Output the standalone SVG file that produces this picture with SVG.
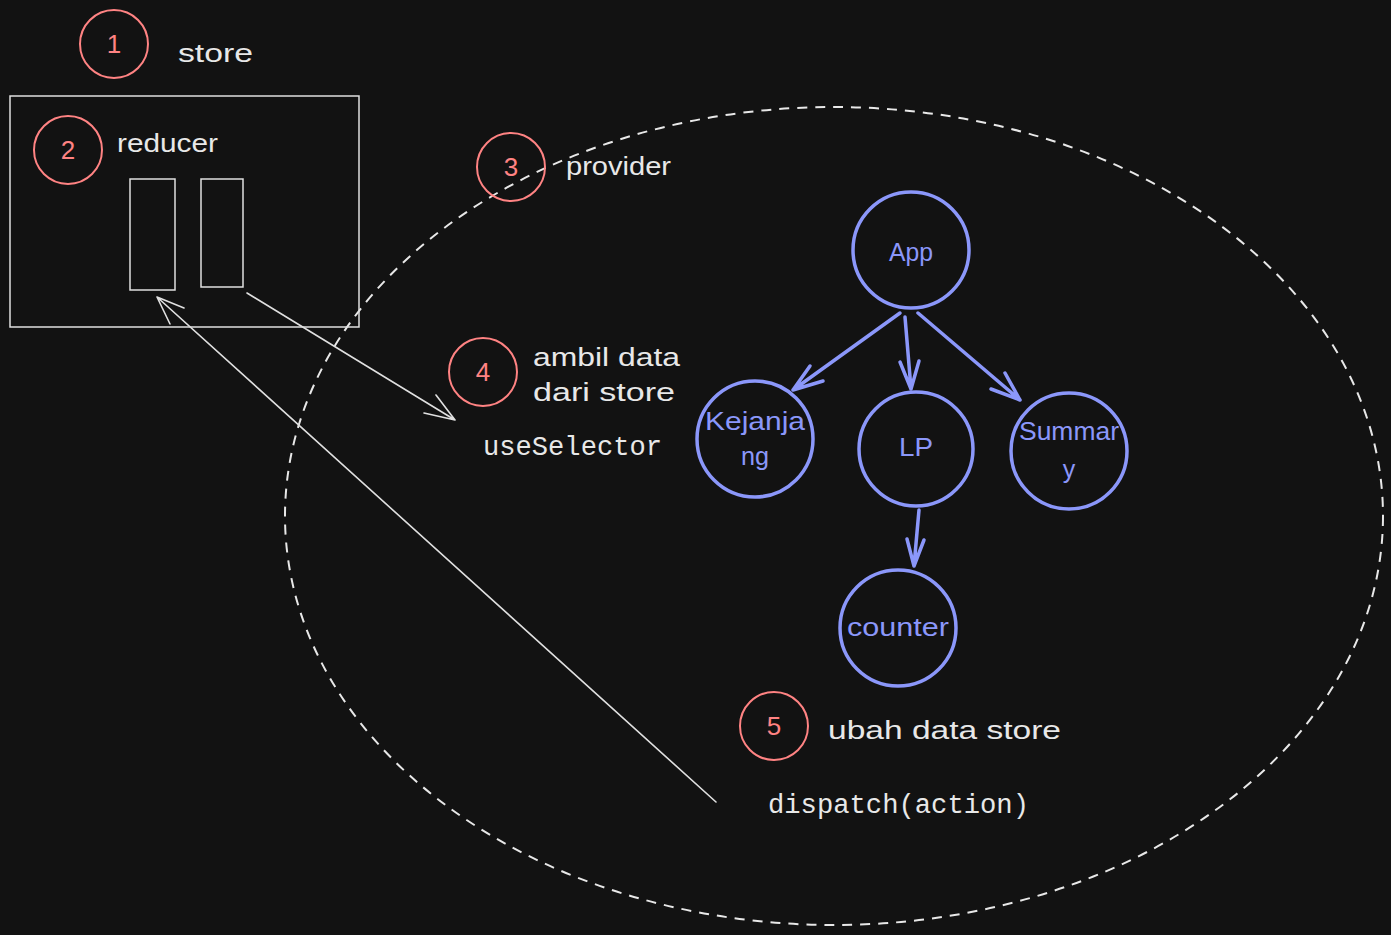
<svg xmlns="http://www.w3.org/2000/svg" width="1391" height="935" viewBox="0 0 1391 935">
<defs>
<style>
.bg{fill:#121212}
.red{fill:none;stroke:#ff8383;stroke-width:2}
.rnum{fill:#ff8383;font-family:"Liberation Sans",sans-serif;font-size:26px;text-anchor:middle}
.hand{fill:#e8e8e8;font-family:"Liberation Sans",sans-serif;font-size:26px}
.mono{fill:#e8e8e8;font-family:"Liberation Mono","DejaVu Sans Mono",monospace;font-size:27px}
.box{fill:none;stroke:#e0e0e0;stroke-width:1.5}
.bnode{fill:none;stroke:#8b97fa;stroke-width:3.5}
.btext{fill:#8b97fa;font-family:"Liberation Sans",sans-serif;font-size:25px;text-anchor:middle}
.bline{fill:none;stroke:#8b97fa;stroke-width:3.5;stroke-linecap:round;stroke-linejoin:round}
.wline{fill:none;stroke:#e0e0e0;stroke-width:1.6;stroke-linecap:round}
</style>
</defs>
<rect class="bg" x="0" y="0" width="1391" height="935"/>

<g id="provider-area">
<ellipse cx="834" cy="516" rx="549" ry="409" fill="none" stroke="#e8e8e8" stroke-width="2" stroke-dasharray="10 8"/>
</g>

<g id="store-label">
<circle class="red" cx="114" cy="44" r="34"/>
<text class="rnum" x="114" y="53">1</text>
<text class="hand" x="178" y="62" textLength="75" lengthAdjust="spacingAndGlyphs">store</text>
</g>

<g id="store-box">
<rect class="box" x="10" y="96" width="349" height="231"/>
<circle class="red" cx="68" cy="150" r="34"/>
<text class="rnum" x="68" y="159">2</text>
<text class="hand" x="117" y="152" textLength="101" lengthAdjust="spacingAndGlyphs">reducer</text>
<rect class="box" x="130" y="179" width="45" height="111"/>
<rect class="box" x="201" y="179" width="42" height="108"/>
</g>

<g id="provider-label">
<circle class="red" cx="511" cy="167" r="34"/>
<text class="rnum" x="511" y="176">3</text>
<text class="hand" x="566" y="175" textLength="105" lengthAdjust="spacingAndGlyphs">provider</text>
</g>

<g id="selector-label">
<circle class="red" cx="483" cy="372" r="34"/>
<text class="rnum" x="483" y="381">4</text>
<text class="hand" x="533" y="366" textLength="147" lengthAdjust="spacingAndGlyphs">ambil data</text>
<text class="hand" x="533" y="401" textLength="142" lengthAdjust="spacingAndGlyphs">dari store</text>
<text class="mono" x="483" y="455" textLength="179" lengthAdjust="spacingAndGlyphs">useSelector</text>
</g>

<g id="dispatch-label">
<circle class="red" cx="774" cy="726" r="34"/>
<text class="rnum" x="774" y="735">5</text>
<text class="hand" x="828" y="739" textLength="233" lengthAdjust="spacingAndGlyphs">ubah data store</text>
<text class="mono" x="768" y="813" textLength="261" lengthAdjust="spacingAndGlyphs">dispatch(action)</text>
</g>

<g id="node-app">
<circle class="bnode" cx="911" cy="250" r="58"/>
<text class="btext" x="911" y="261" textLength="44" lengthAdjust="spacingAndGlyphs">App</text>
</g>
<g id="node-kejanjang">
<circle class="bnode" cx="755" cy="439" r="58"/>
<text class="btext" x="755" y="430" textLength="100" lengthAdjust="spacingAndGlyphs">Kejanja</text>
<text class="btext" x="755" y="465" textLength="28" lengthAdjust="spacingAndGlyphs">ng</text>
</g>
<g id="node-lp">
<circle class="bnode" cx="916" cy="449" r="57"/>
<text class="btext" x="916" y="456" textLength="34" lengthAdjust="spacingAndGlyphs">LP</text>
</g>
<g id="node-summary">
<circle class="bnode" cx="1069" cy="451" r="58"/>
<text class="btext" x="1069" y="440" textLength="100" lengthAdjust="spacingAndGlyphs">Summar</text>
<text class="btext" x="1069" y="478">y</text>
</g>
<g id="node-counter">
<circle class="bnode" cx="898" cy="628" r="58"/>
<text class="btext" x="898" y="636" textLength="102" lengthAdjust="spacingAndGlyphs">counter</text>
</g>

<g id="connectors">
<path class="bline" d="M900 313 L793 390 M793 390 L823 381 M793 390 L810 366"/>
<path class="bline" d="M905 317 L911 389 M911 389 L900 362 M911 389 L919 361"/>
<path class="bline" d="M918 313 L1020 400 M1020 400 L1005 373 M1020 400 L991 389"/>
<path class="bline" d="M919 510 L914 566 M914 566 L907 539 M914 566 L924 540"/>
<path class="wline" d="M247 293 L455 420 M455 420 L436 395 M455 420 L424 413"/>
<path class="wline" d="M716 802 L157 297 M157 297 L170 324 M157 297 L184 308"/>
</g>
</svg>
